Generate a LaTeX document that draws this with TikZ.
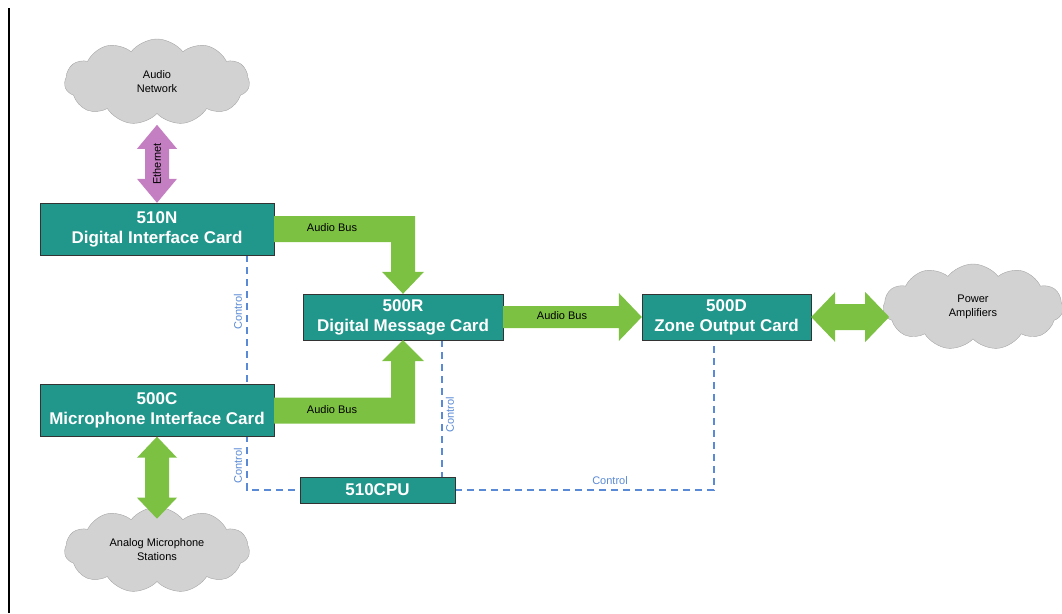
\documentclass[tikz,border=0pt]{standalone}
\usepackage{fontspec}
\setmainfont{Liberation Sans}
\usetikzlibrary{shapes.symbols,calc,backgrounds}
\definecolor{cardteal}{HTML}{21968B}
\definecolor{busgreen}{HTML}{7CC142}
\definecolor{netpurple}{HTML}{C47FC2}
\definecolor{cloudgray}{HTML}{D2D2D2}
\definecolor{ctrlblue}{HTML}{5A8AD6}
\tikzset{
  card/.style={draw=black!80, fill=cardteal, text=white, inner sep=0pt,
    font=\fontsize{17}{20}\selectfont\bfseries, align=center},
  puff/.style={cloud, cloud puffs=11, cloud puff arc=105, cloud ignores aspect,
    draw=gray!70, fill=cloudgray, inner sep=0pt, align=center,
    font=\fontsize{11}{14}\selectfont},
  ctrl/.style={ctrlblue, dash pattern=on 7pt off 5pt, line width=1.2pt},
  ctrltext/.style={text=ctrlblue, rotate=90, font=\fontsize{11}{13}\selectfont},
  bustext/.style={font=\fontsize{11}{13}\selectfont},
}

\begin{document}
\begin{tikzpicture}[x=1pt,y=-1pt]
\useasboundingbox (0,0) rectangle (1062,613);
\draw[line width=1.5pt] (9,8) -- (9,613);

% cards
\node[card, minimum width=234pt, minimum height=52pt] (n510) at (157,229) {510N\\Digital Interface Card};
\node[card, minimum width=234pt, minimum height=52pt] (n500c) at (157,410.5) {500C\\Microphone Interface Card};
\node[card, minimum width=200pt, minimum height=46pt] (n500r) at (403,317) {500R\\Digital Message Card};
\node[card, minimum width=169pt, minimum height=46pt] (n500d) at (726.5,317) {500D\\Zone Output Card};
\node[card, minimum width=155pt, minimum height=26pt] (cpu) at (377.5,490) {510CPU};

% clouds
\node[puff, minimum width=185pt, minimum height=86pt] (net) at (157,82) {Audio\\Network};
\node[puff, minimum width=185pt, minimum height=86pt] (mics) at (157,550) {Analog Microphone\\Stations};
\node[puff, minimum width=180pt, minimum height=86pt] (amps) at (973,307) {Power\\Amplifiers};
\coordinate (netend) at ($(n510.north)+(0,-78)$);
\coordinate (micend) at ($(n500c.south)+(0,82)$);
\coordinate (ampend) at ($(n500d.east)+(78,0)$);

% ethernet
\fill[netpurple] (netend) -- ++(20,24) -- ++(-8,0) -- ($(n510.north)+(12,-24)$)
  -- ++(8,0) -- (n510.north) -- ++(-20,-24) -- ++(8,0) -- ($(netend)+(-12,24)$)
  -- ++(-8,0) -- cycle;
\node[rotate=90, font=\fontsize{11}{13}\selectfont] (eth) at ($(netend)!0.5!(n510.north)$) {Ethernet};

% microphones
\fill[busgreen] (n500c.south) -- ++(20,21) -- ++(-8,0) -- ($(micend)+(12,-21)$)
  -- ++(8,0) -- (micend) -- ++(-20,-21) -- ++(8,0) -- ($(n500c.south)+(-12,21)$)
  -- ++(-8,0) -- cycle;

% amplifiers
\fill[busgreen] (n500d.east) -- ++(24,-25) -- ++(0,12) -- ($(ampend)+(-24,-13)$)
  -- ++(0,-12) -- (ampend) -- ++(-24,25) -- ++(0,-12) -- ($(n500d.east)+(24,13)$)
  -- ++(0,12) -- cycle;

% audio buses
\fill[busgreen] ($(n510.east)+(0,-13)$) -- ($(n510.east -| n500r.north)+(12,-13)$)
  -- ($(n500r.north)+(12,-22)$) -- ++(9,0) -- (n500r.north) -- ++(-21,-22) -- ++(9,0)
  -- ($(n510.east -| n500r.north)+(-12,13)$) -- ($(n510.east)+(0,13)$) -- cycle;
\node[bustext] (bus1) at (332,228) {Audio Bus};

\fill[busgreen] ($(n500c.east)+(0,13)$) -- ($(n500c.east -| n500r.south)+(12,13)$)
  -- ($(n500r.south)+(12,21)$) -- ++(9,0) -- (n500r.south) -- ++(-21,21) -- ++(9,0)
  -- ($(n500c.east -| n500r.south)+(-12,-13)$) -- ($(n500c.east)+(0,-13)$) -- cycle;
\node[bustext] (bus2) at (332,410) {Audio Bus};

\fill[busgreen] ($(n500r.east)+(0,-11)$) -- ($(n500d.west)+(-23,-11)$) -- ++(0,-13)
  -- (n500d.west) -- ++(-23,24) -- ++(0,-13) -- ($(n500r.east)+(0,11)$) -- cycle;
\node[bustext] (bus3) at (562,316) {Audio Bus};

% control lines
\begin{scope}[on background layer]
\coordinate (c1) at ($(n510.south)+(90,0)$);
\coordinate (c2) at ($(n500r.south)+(39,0)$);
\coordinate (c3) at ($(n500d.south)+(-12.5,0)$);
\draw[ctrl] (c1) |- (cpu.west);
\draw[ctrl] (c2) -- (c2 |- cpu.north);
\draw[ctrl] (cpu.east) -| (c3);
\end{scope}
\node[ctrltext] (ctl1) at (238,312) {Control};
\node[ctrltext] (ctl2) at (238,466) {Control};
\node[ctrltext] (ctl3) at (450,415) {Control};
\node[text=ctrlblue, font=\fontsize{11}{13}\selectfont] (ctl4) at (610,481) {Control};
\end{tikzpicture}
\end{document}
